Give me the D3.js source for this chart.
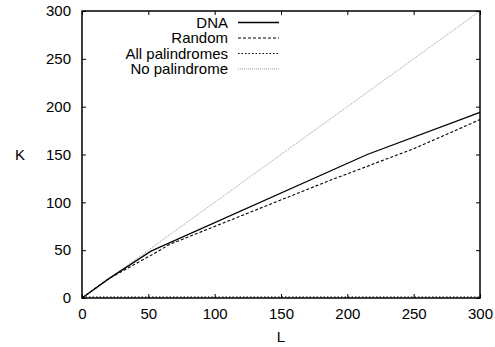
<!DOCTYPE html>
<html><head><meta charset="utf-8">
<script src="https://cdn.jsdelivr.net/npm/d3@7"></script>
<style>body{margin:0;background:#fff}svg{display:block}text{font-family:"Liberation Sans",Arial,sans-serif;fill:#000}</style>
</head><body><svg id="c" width="495" height="347"></svg>
<script>
const xTicks = [0,50,100,150,200,250,300];
const yTicks = [0,50,100,150,200,250,300];
const dnaL = [0,20,52,215,300];
const dnaK = [0,20,49,150,194];
const randL = [0,20,55,66,187,250,300];
const randK = [0,20,47,56,123,156,186.5];
const allPalL = [0,300];
const allPalK = [1,1];
const noPalL = [0,300];
const noPalK = [0,300];
const seriesNames = ["DNA","Random","All palindromes","No palindrome"];

const svg = d3.select("#c");
const M = {l:82, r:480, t:11, b:298};
const x = d3.scaleLinear().domain([0,300]).range([M.l,M.r]);
const y = d3.scaleLinear().domain([0,300]).range([M.b,M.t]);
const fs = 15;

const styles = [
  {stroke:"#000", w:1.3, dash:null},
  {stroke:"#000", w:1.1, dash:"3,2"},
  {stroke:"#000", w:1.1, dash:"1.5,2"},
  {stroke:"#999", w:1, dash:"1,1"}
];
const data = [
  d3.zip(dnaL,dnaK), d3.zip(randL,randK), d3.zip(allPalL,allPalK), d3.zip(noPalL,noPalK)
];
const line = d3.line().x(d=>x(d[0])).y(d=>y(d[1]));
[3,2,1,0].forEach(i=>{
  svg.append("path").attr("d",line(data[i])).attr("fill","none")
    .attr("stroke",styles[i].stroke).attr("stroke-width",styles[i].w)
    .attr("stroke-dasharray",styles[i].dash);
});

const ax = [
  svg.append("g").attr("transform",`translate(0,${M.b})`).call(d3.axisBottom(x).tickValues(xTicks).tickSize(-4).tickPadding(10)),
  svg.append("g").attr("transform",`translate(0,${M.t})`).call(d3.axisTop(x).tickValues(xTicks).tickSize(-4).tickFormat("")),
  svg.append("g").attr("transform",`translate(${M.l},0)`).call(d3.axisLeft(y).tickValues(yTicks).tickSize(-4).tickPadding(11)),
  svg.append("g").attr("transform",`translate(${M.r},0)`).call(d3.axisRight(y).tickValues(yTicks).tickSize(-4).tickFormat(""))
];
ax.forEach(g=>{
  g.select(".domain").remove();
  g.selectAll("line").attr("stroke","#000").attr("stroke-width",1);
  g.selectAll("text").attr("font-size",fs).attr("font-family","Liberation Sans, Arial, sans-serif").attr("fill","#000");
});
svg.append("rect").attr("x",M.l).attr("y",M.t).attr("width",M.r-M.l).attr("height",M.b-M.t)
  .attr("fill","none").attr("stroke","#000").attr("stroke-width",1.5);

svg.append("text").attr("x",20).attr("y",155).attr("dy","0.35em").attr("text-anchor","middle").attr("font-size",fs).text("K");
svg.append("text").attr("x",281).attr("y",337).attr("dy","0.35em").attr("text-anchor","middle").attr("font-size",fs).text("L");

seriesNames.forEach((n,i)=>{
  const yy = 22.5 + i*15.5;
  svg.append("text").attr("x",228).attr("y",yy).attr("dy","0.35em").attr("text-anchor","end").attr("font-size",fs).text(n);
  svg.append("line").attr("x1",238).attr("x2",279).attr("y1",yy).attr("y2",yy)
    .attr("stroke",styles[i].stroke).attr("stroke-width",styles[i].w).attr("stroke-dasharray",styles[i].dash);
});
</script></body></html>
